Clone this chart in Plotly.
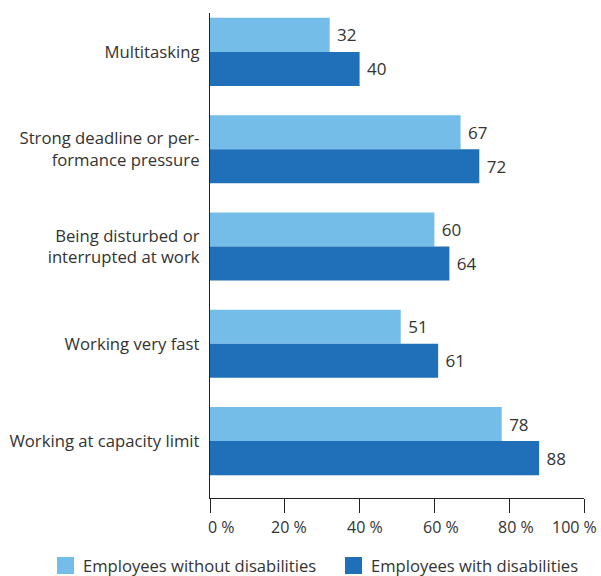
import plotly.graph_objects as go

categories = [
    "Multitasking",
    "Strong deadline or per-<br>formance pressure",
    "Being disturbed or<br>interrupted at work",
    "Working very fast",
    "Working at capacity limit",
]
without_disab = [32, 67, 60, 51, 78]
with_disab = [40, 72, 64, 61, 88]
series_names = ["Employees without disabilities", "Employees with disabilities"]
x_ticks = [0, 20, 40, 60, 80, 100]
x_ticktext = ["0 %", "20 %", "40 %", "60 %", "80 %", "100 %"]

LIGHT = "#74BDE9"
DARK = "#1F70B8"
TEXT = "#333333"
FONT = "Open Sans"

W, H = 601, 576
ML, MR, MT, MB = 210, 17, 13, 78

# horizontal pixel nudges of the x tick labels, as placed in the reference
tick_label_shift = [11, 4, 5, 7, 7, -10]

fig = go.Figure()
for vals, col, name in [(without_disab, LIGHT, series_names[0]), (with_disab, DARK, series_names[1])]:
    fig.add_trace(go.Bar(
        y=categories, x=vals, orientation="h", name=name,
        marker=dict(color=col, line=dict(width=0)),
        text=[str(v) for v in vals], texttemplate=" %{text}", textposition="outside",
        textfont=dict(size=17, color=TEXT, family=FONT), cliponaxis=False,
        hoverinfo="x+y",
    ))

pw = W - ML - MR
ph = H - MT - MB

def px_x(px):
    return (px - ML) / pw

def px_y(py):
    return 1 - (py - MT) / ph

shapes = []
annotations = []
legend_items = [(57, LIGHT, series_names[0]), (345, DARK, series_names[1])]
for x0, col, name in legend_items:
    shapes.append(dict(type="rect", xref="paper", yref="paper",
                       x0=px_x(x0), x1=px_x(x0 + 17), y0=px_y(574), y1=px_y(557),
                       fillcolor=col, line=dict(width=0)))
    annotations.append(dict(xref="paper", yref="paper", x=px_x(x0 + 24), y=px_y(565.5),
                            xanchor="left", yanchor="middle", text=name, showarrow=False,
                            font=dict(size=16.6, color=TEXT, family=FONT)))

for v, t, s in zip(x_ticks, x_ticktext, tick_label_shift):
    annotations.append(dict(xref="x", yref="paper", x=v, y=px_y(527), xshift=s,
                            xanchor="center", yanchor="middle", text=t, showarrow=False,
                            font=dict(size=16, color=TEXT, family=FONT)))

fig.update_layout(
    width=W, height=H,
    margin=dict(l=ML, r=MR, t=MT, b=MB, autoexpand=False),
    paper_bgcolor="white", plot_bgcolor="white",
    barmode="group", bargap=0.3, bargroupgap=0,
    showlegend=False,
    font=dict(family=FONT, size=16, color=TEXT),
    shapes=shapes, annotations=annotations,
)
fig.update_xaxes(
    range=[0, 100], tickmode="array", tickvals=x_ticks, showticklabels=False,
    showgrid=False, zeroline=False, showline=True, linecolor="#222", linewidth=1.3,
    ticks="outside", ticklen=14, tickcolor="#222", tickwidth=1.3,
    automargin=False,
)
fig.update_yaxes(
    range=[4.585, -0.4], showgrid=False, zeroline=False,
    showline=True, linecolor="#222", linewidth=1.3,
    ticks="", ticklabelstandoff=6, automargin=False,
    tickfont=dict(size=16.7, color=TEXT, family=FONT),
)

fig.write_html(
    "out.html",
    config={"displayModeBar": False},
    post_script="document.body.style.margin='0';document.body.style.padding='0';document.body.style.overflow='hidden';",
)
